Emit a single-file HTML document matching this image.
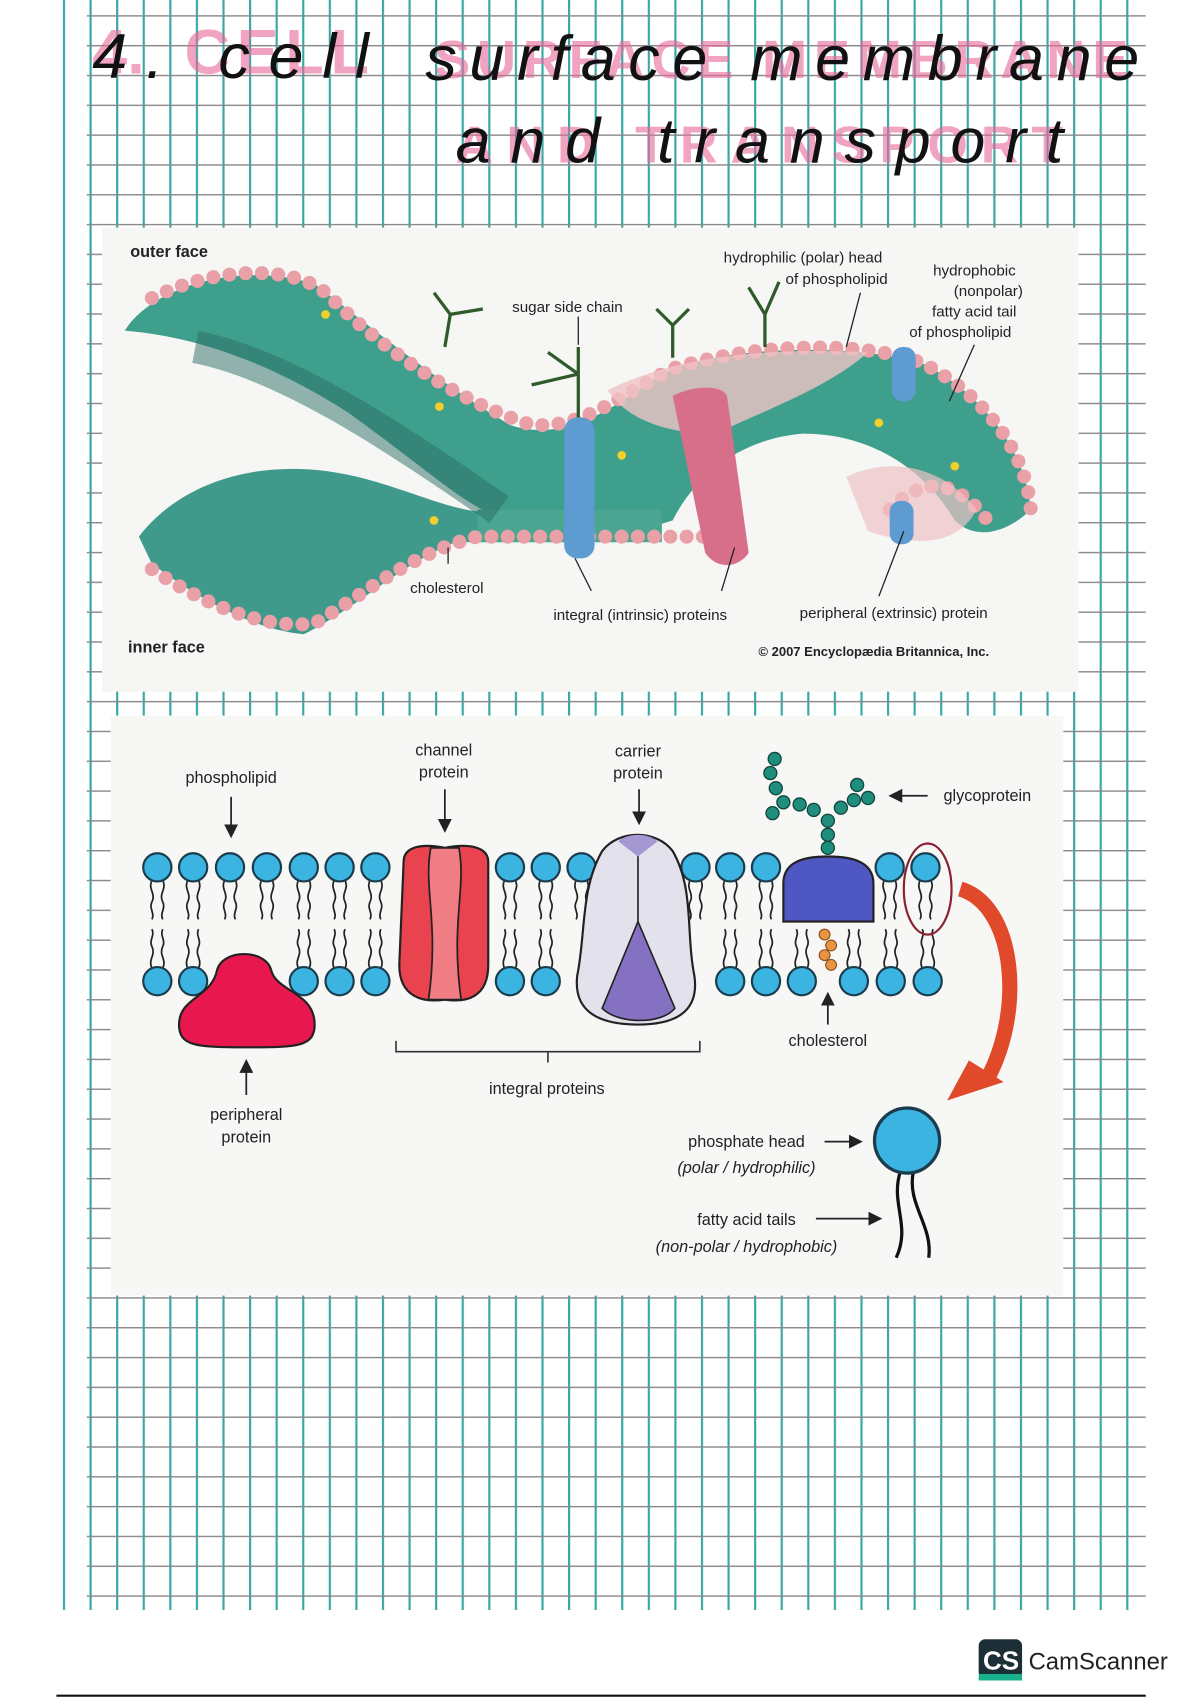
<!DOCTYPE html>
<html><head><meta charset="utf-8"><style>
html,body{margin:0;padding:0;background:#fff;}
svg{display:block;}
text{font-family:"Liberation Sans",Arial,sans-serif;}
</style></head><body>
<svg width="1200" height="1700" viewBox="0 0 1106 1568" preserveAspectRatio="none" xmlns="http://www.w3.org/2000/svg">
<defs>
<pattern id="vg" x="58" y="0" width="24.5" height="1568" patternUnits="userSpaceOnUse">
<rect x="0" y="0" width="2" height="1568" fill="#3aa7a6"/>
</pattern>
<pattern id="hg" x="0" y="14" width="1106" height="27.5" patternUnits="userSpaceOnUse">
<rect x="0" y="0" width="1106" height="1.3" fill="#888"/>
</pattern>
<g id="pt">
<path d="M-5,12 c-4,8 4,12 0,20 c-3,6 3,10 0,16 M5,12 c4,8 -4,12 0,20 c3,6 -3,10 0,16" fill="none" stroke="#222" stroke-width="1.6"/>
<circle cx="0" cy="0" r="13" fill="#3bb4e2" stroke="#1b3c4c" stroke-width="2"/>
</g>
<g id="pb">
<path d="M-5,-12 c-4,-8 4,-12 0,-20 c-3,-6 3,-10 0,-16 M5,-12 c4,-8 -4,-12 0,-20 c3,-6 -3,-10 0,-16" fill="none" stroke="#222" stroke-width="1.6"/>
<circle cx="0" cy="0" r="13" fill="#3bb4e2" stroke="#1b3c4c" stroke-width="2"/>
</g>
<marker id="ar" markerWidth="8" markerHeight="8" refX="6" refY="4" orient="auto"><path d="M0,0 L8,4 L0,8 z" fill="#222"/></marker>
</defs>
<rect width="1106" height="1568" fill="#fff"/>
<rect x="56" y="0" width="1000" height="1485" fill="url(#vg)"/>
<rect x="80" y="0" width="976" height="1485" fill="url(#hg)"/>
<line x1="52" y1="1564" x2="1056" y2="1564" stroke="#111" stroke-width="2"/>

<!-- title -->
<g font-family="Liberation Sans" font-weight="bold" fill="#e8679a" opacity="0.6">
<text x="85" y="68" font-size="58">4.</text>
<text x="170" y="68" font-size="58" textLength="170" lengthAdjust="spacing">CELL</text>
<text x="400" y="72" font-size="50" textLength="640" lengthAdjust="spacing">SURFACE MEMBRANE</text>
<text x="420" y="150" font-size="48" textLength="560" lengthAdjust="spacing">AND TRANSPORT</text>
</g>
<g font-family="Liberation Serif" font-style="italic" fill="#111">
<text x="85" y="72" font-size="58" textLength="255" lengthAdjust="spacing">4. cell</text>
<text x="392" y="74" font-size="58" textLength="658" lengthAdjust="spacing">surface membrane</text>
<text x="420" y="150" font-size="58" textLength="560" lengthAdjust="spacing">and transport</text>
</g>

<!-- top figure -->
<rect x="94" y="210" width="900" height="428" fill="#f6f6f4"/>
<text x="120" y="237" font-size="15" font-weight="bold" fill="#222">outer face</text>
<text x="118" y="602" font-size="15" font-weight="bold" fill="#222">inner face</text>
<path d="M128,495 C170,440 250,420 330,440 C390,455 430,480 470,470 L620,455 L600,500 C540,500 470,500 420,500 C370,520 330,560 280,585 C230,580 180,550 140,520 Z" fill="#3f9a8b"/>
<path d="M115,305 C140,265 220,240 290,262 C340,300 400,350 470,392 C520,408 560,380 610,345 C660,320 780,315 850,335 C900,360 945,410 950,470 C930,490 900,500 880,480 C850,430 800,400 740,400 C680,405 640,440 620,480 C560,500 500,497 460,478 C420,460 390,430 320,380 C250,335 180,310 115,305 Z" fill="#3e9f8c"/>
<path d="M440,470 L610,470 L610,500 L440,500 Z" fill="#4aa591"/>
<path d="M180,320 C260,335 360,400 460,470" stroke="#2c6e64" stroke-width="30" fill="none" opacity="0.5"/>
<g fill="none" stroke="#e9a0a6" stroke-width="13" stroke-linecap="round" stroke-dasharray="0 15">
<path d="M140,275 C200,245 270,245 300,270 C350,320 420,370 490,392 C540,395 570,365 620,340 C700,315 800,315 850,335 C900,360 945,410 950,470"/>
<path d="M140,525 C200,565 250,580 290,575 C340,545 380,510 440,495 C520,495 600,495 660,495"/>
<path d="M820,470 C850,440 880,440 910,480"/>
</g>
<path d="M560,360 C620,330 700,320 800,325 C760,360 700,380 660,400 C620,400 580,390 560,360 Z" fill="#f0c3c6" opacity="0.8"/>
<path d="M780,440 C820,420 870,430 900,470 C880,510 830,500 800,490 Z" fill="#f0c3c6" opacity="0.7"/>
<rect x="520" y="385" width="28" height="130" rx="12" fill="#5d9bd0"/>
<path d="M620,365 C640,355 665,355 670,365 L690,510 C680,525 660,525 650,510 Z" fill="#d86f8a"/>
<rect x="822" y="320" width="22" height="50" rx="10" fill="#5d9bd0"/>
<rect x="820" y="462" width="22" height="40" rx="10" fill="#5d9bd0"/>
<g stroke="#2f5a2a" stroke-width="3" fill="none">
<path d="M533,385 L533,320 M533,345 L505,325 M533,345 L490,355"/>
<path d="M705,320 L705,290 L690,265 M705,290 L718,260"/>
<path d="M620,330 L620,300 L605,285 M620,300 L635,285"/>
<path d="M410,320 L415,290 L400,270 M415,290 L445,285"/>
</g>
<g fill="#f2cf2c"><circle cx="405" cy="375" r="4"/><circle cx="573" cy="420" r="4"/><circle cx="810" cy="390" r="4"/><circle cx="400" cy="480" r="4"/><circle cx="300" cy="290" r="4"/><circle cx="880" cy="430" r="4"/></g>
<g stroke="#222" stroke-width="1.2" fill="none">
<line x1="413" y1="520" x2="413" y2="505"/>
<line x1="545" y1="545" x2="530" y2="515"/>
<line x1="665" y1="545" x2="677" y2="505"/>
<line x1="810" y1="550" x2="833" y2="490"/>
<line x1="780" y1="320" x2="793" y2="270"/>
<line x1="875" y1="370" x2="898" y2="318"/>
<line x1="533" y1="292" x2="533" y2="318"/>
</g>
<g font-size="14" fill="#222">
<text x="378" y="547">cholesterol</text>
<text x="510" y="572">integral (intrinsic) proteins</text>
<text x="737" y="570">peripheral (extrinsic) protein</text>
<text x="472" y="288">sugar side chain</text>
<text x="667" y="242">hydrophilic (polar) head</text>
<text x="724" y="262">of phospholipid</text>
<text x="860" y="254">hydrophobic</text>
<text x="879" y="273">(nonpolar)</text>
<text x="859" y="292">fatty acid tail</text>
<text x="838" y="311">of phospholipid</text>
<text x="699" y="605" font-size="12" font-weight="bold">© 2007 Encyclopædia Britannica, Inc.</text>
</g>

<!-- bottom figure -->
<rect x="102" y="660" width="878" height="535" fill="#f7f7f6"/>
<g font-size="15" fill="#222" text-anchor="middle">
<text x="213" y="722">phospholipid</text>
<text x="409" y="697">channel</text><text x="409" y="717">protein</text>
<text x="588" y="698">carrier</text><text x="588" y="718">protein</text>
<text x="910" y="739">glycoprotein</text>
<text x="763" y="965">cholesterol</text>
<text x="504" y="1009">integral proteins</text>
<text x="227" y="1033">peripheral</text><text x="227" y="1054">protein</text>
<text x="688" y="1058">phosphate head</text>
<text x="688" y="1082" font-style="italic">(polar / hydrophilic)</text>
<text x="688" y="1130">fatty acid tails</text>
<text x="688" y="1155" font-style="italic">(non-polar / hydrophobic)</text>
</g>
<g stroke="#222" stroke-width="1.6" fill="none" marker-end="url(#ar)">
<line x1="213" y1="735" x2="213" y2="770"/>
<line x1="410" y1="728" x2="410" y2="765"/>
<line x1="589" y1="728" x2="589" y2="758"/>
<line x1="855" y1="734" x2="822" y2="734"/>
<line x1="763" y1="945" x2="763" y2="918"/>
<line x1="227" y1="1010" x2="227" y2="980"/>
<line x1="760" y1="1053" x2="792" y2="1053"/>
<line x1="752" y1="1124" x2="810" y2="1124"/>
</g>
<path d="M365,960 L365,970 L645,970 L645,960 M505,970 L505,980" stroke="#333" stroke-width="1.5" fill="none"/>

<g>
<use href="#pt" x="145" y="800"/><use href="#pt" x="178" y="800"/><use href="#pt" x="212" y="800"/><use href="#pt" x="246" y="800"/><use href="#pt" x="280" y="800"/><use href="#pt" x="313" y="800"/><use href="#pt" x="346" y="800"/>
<use href="#pt" x="470" y="800"/><use href="#pt" x="503" y="800"/><use href="#pt" x="536" y="800"/>
<use href="#pt" x="641" y="800"/><use href="#pt" x="673" y="800"/><use href="#pt" x="706" y="800"/>
<use href="#pt" x="820" y="800"/><use href="#pt" x="853" y="800"/>
<use href="#pb" x="145" y="905"/><use href="#pb" x="178" y="905"/><use href="#pb" x="280" y="905"/><use href="#pb" x="313" y="905"/><use href="#pb" x="346" y="905"/>
<use href="#pb" x="470" y="905"/><use href="#pb" x="503" y="905"/>
<use href="#pb" x="673" y="905"/><use href="#pb" x="706" y="905"/><use href="#pb" x="739" y="905"/><use href="#pb" x="787" y="905"/><use href="#pb" x="821" y="905"/><use href="#pb" x="855" y="905"/>
</g>
<path d="M200,895 C205,875 245,875 250,895 C255,915 290,915 290,945 C290,965 275,966 230,966 C180,966 165,965 165,945 C165,920 195,920 200,895 Z" fill="#e8184f" stroke="#222" stroke-width="2"/>
<path d="M372,795 C372,780 390,778 410,782 C430,778 450,780 450,795 L450,890 C450,920 430,925 410,922 C390,925 368,920 368,890 Z" fill="#e8434f" stroke="#222" stroke-width="2"/>
<path d="M397,782 C390,820 405,850 395,922 L425,922 C415,850 430,820 423,782 Z" fill="#f07c84" stroke="#222" stroke-width="1.6"/>
<path d="M555,785 C570,765 605,765 620,785 C640,820 632,860 640,900 C645,935 620,945 588,945 C555,945 528,935 532,900 C540,860 535,820 555,785 Z" fill="#e2e1ec" stroke="#222" stroke-width="2"/>
<path d="M588,850 L555,930 C570,945 610,945 622,930 Z" fill="#8571c2" stroke="#222" stroke-width="1.5"/>
<path d="M588,775 L588,850" stroke="#222" stroke-width="1.5"/>
<path d="M570,776 C578,768 598,768 606,776 L588,790 Z" fill="#a598d2"/>
<path d="M722,850 L722,815 C722,795 740,790 763,790 C786,790 805,795 805,815 L805,850 Z" fill="#4e57c2" stroke="#222" stroke-width="2"/>
<g fill="#1f8e7c" stroke="#10453c" stroke-width="1.2">
<circle cx="763" cy="782" r="6"/><circle cx="763" cy="770" r="6"/><circle cx="763" cy="757" r="6"/><circle cx="750" cy="747" r="6"/><circle cx="737" cy="742" r="6"/><circle cx="722" cy="740" r="6"/><circle cx="712" cy="750" r="6"/><circle cx="715" cy="727" r="6"/><circle cx="710" cy="713" r="6"/><circle cx="714" cy="700" r="6"/>
<circle cx="775" cy="745" r="6"/><circle cx="787" cy="738" r="6"/><circle cx="790" cy="724" r="6"/><circle cx="800" cy="736" r="6"/>
</g>
<g fill="#e89543" stroke="#8a4a1a" stroke-width="1"><circle cx="760" cy="862" r="5"/><circle cx="766" cy="872" r="5"/><circle cx="760" cy="881" r="5"/><circle cx="766" cy="890" r="5"/></g>
<ellipse cx="855" cy="820" rx="22" ry="42" fill="none" stroke="#8a2030" stroke-width="2"/>
<path d="M885,820 C935,835 945,930 910,995" stroke="#e04a2a" stroke-width="14" fill="none"/>
<path d="M873,1015 L893,978 L925,998 Z" fill="#e04a2a"/>
<path d="M830,1080 C820,1110 840,1130 826,1160 M842,1080 C835,1110 860,1130 856,1160" stroke="#111" stroke-width="3" fill="none"/>
<circle cx="836" cy="1052" r="30" fill="#3bb4e2" stroke="#1b3c4c" stroke-width="3"/>

<rect x="902" y="1512" width="40" height="36" rx="6" fill="#1d2f36"/>
<text x="906" y="1540" font-size="24" font-weight="bold" fill="#fff">CS</text>
<rect x="902" y="1544" width="40" height="6" fill="#19b08c"/>
<text x="948" y="1540" font-family="Liberation Serif" font-size="22" fill="#222">CamScanner</text>
</svg>
</body></html>
